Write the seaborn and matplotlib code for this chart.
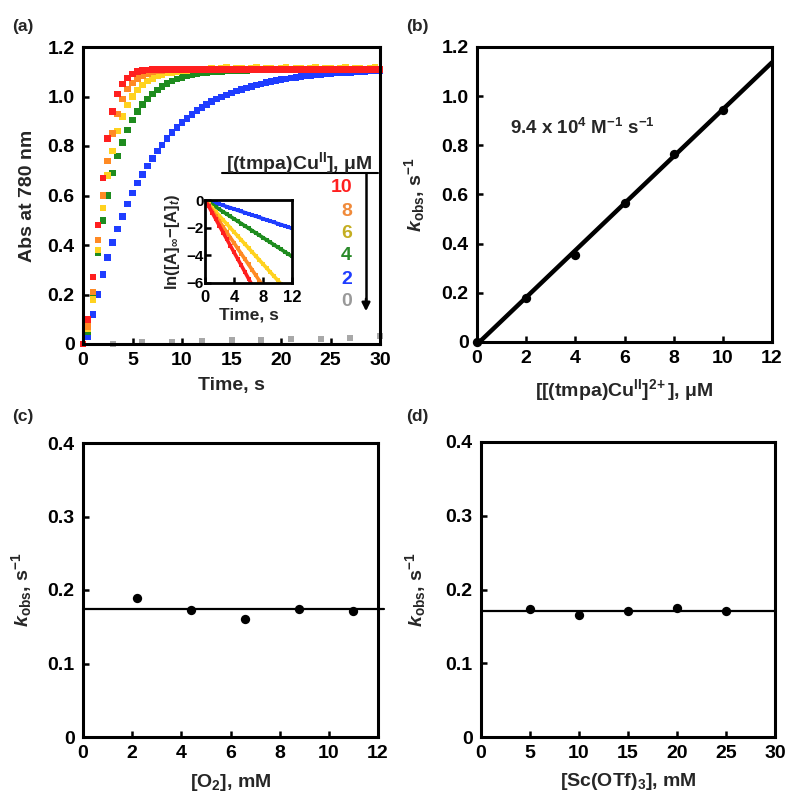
import numpy as np
import pandas as pd
import matplotlib
matplotlib.use("Agg")
import matplotlib.pyplot as plt
import seaborn as sns
from matplotlib.lines import Line2D

# ---------------- data: panel (a) main ----------------
TIME = [0.0, 0.5, 1.0, 1.5, 2.0, 2.5, 3.0, 3.5, 4.0, 4.5, 5.0, 5.5, 6.0,
        6.5, 7.0, 7.5, 8.0, 8.5, 9.0, 9.5, 10.0, 10.5, 11.0,
        11.5, 12.0, 12.5, 13.0, 13.5, 14.0, 14.5, 15.0, 15.5, 16.0,
        16.5, 17.0, 17.5, 18.0, 18.5, 19.0, 19.5, 20.0, 20.5, 21.0,
        21.5, 22.0, 22.5, 23.0, 23.5, 24.0, 24.5, 25.0, 25.5, 26.0,
        26.5, 27.0, 27.5, 28.0, 28.5, 29.0, 29.5, 30.0]

ABS_10 = [0.00, 0.10, 0.27, 0.48, 0.67, 0.83, 0.94, 1.01, 1.05, 1.075, 1.09, 1.10, 1.105,
          1.108, 1.109, 1.11, 1.11, 1.11, 1.11, 1.11, 1.11, 1.11, 1.11,
          1.11, 1.11, 1.11, 1.11, 1.11, 1.11, 1.11, 1.11, 1.11, 1.11,
          1.11, 1.11, 1.11, 1.11, 1.11, 1.11, 1.11, 1.11, 1.11, 1.11,
          1.11, 1.11, 1.11, 1.11, 1.11, 1.11, 1.11, 1.11, 1.11, 1.11,
          1.11, 1.11, 1.11, 1.11, 1.11, 1.11, 1.11, 1.11]
ABS_8 = [0.00, 0.07, 0.21, 0.42, 0.60, 0.74, 0.85, 0.93, 0.99, 1.03, 1.055, 1.072, 1.085,
         1.093, 1.099, 1.103, 1.106, 1.108, 1.109, 1.11, 1.11, 1.11, 1.11,
         1.11, 1.11, 1.11, 1.11, 1.11, 1.11, 1.11, 1.11, 1.11, 1.11,
         1.11, 1.11, 1.11, 1.11, 1.11, 1.11, 1.11, 1.11, 1.11, 1.11,
         1.11, 1.11, 1.11, 1.11, 1.11, 1.11, 1.11, 1.11, 1.11, 1.11,
         1.11, 1.11, 1.11, 1.11, 1.11, 1.11, 1.11, 1.11]
ABS_6 = [0.00, 0.06, 0.18, 0.38, 0.55, 0.68, 0.78, 0.86, 0.92, 0.965, 1.00, 1.027, 1.047,
         1.062, 1.073, 1.082, 1.089, 1.094, 1.098, 1.101, 1.104, 1.106, 1.107,
         1.108, 1.110, 1.112, 1.116, 1.112, 1.113, 1.117, 1.112, 1.113, 1.116,
         1.112, 1.113, 1.117, 1.112, 1.113, 1.116, 1.112, 1.113, 1.117, 1.112,
         1.113, 1.116, 1.112, 1.113, 1.117, 1.112, 1.113, 1.116, 1.112, 1.113,
         1.117, 1.112, 1.113, 1.116, 1.112, 1.113, 1.117, 1.112]
ABS_4 = [0.00, 0.05, 0.20, 0.37, 0.50, 0.60, 0.69, 0.76, 0.815, 0.865, 0.905, 0.94, 0.968,
         0.99, 1.01, 1.027, 1.041, 1.052, 1.062, 1.07, 1.076, 1.082, 1.087,
         1.091, 1.094, 1.096, 1.099, 1.101, 1.102, 1.103, 1.104, 1.105, 1.106,
         1.106, 1.107, 1.107, 1.108, 1.108, 1.108, 1.109, 1.109, 1.109, 1.109,
         1.11, 1.11, 1.11, 1.11, 1.11, 1.11, 1.11, 1.11, 1.11, 1.11,
         1.11, 1.11, 1.11, 1.11, 1.11, 1.11, 1.11, 1.11]
ABS_2 = [0.00, 0.03, 0.12, 0.20, 0.28, 0.35, 0.41, 0.465, 0.515, 0.565, 0.61, 0.65, 0.685,
         0.72, 0.75, 0.78, 0.805, 0.83, 0.855, 0.875, 0.895, 0.912, 0.928,
         0.943, 0.956, 0.968, 0.979, 0.989, 0.998, 1.007, 1.015, 1.022, 1.029,
         1.035, 1.041, 1.046, 1.051, 1.056, 1.06, 1.064, 1.068, 1.071, 1.074,
         1.077, 1.08, 1.082, 1.085, 1.087, 1.089, 1.091, 1.093, 1.094, 1.096,
         1.097, 1.098, 1.10, 1.101, 1.102, 1.103, 1.104, 1.105]
TIME_0 = [0, 3, 6, 9, 12, 15, 18, 21, 24, 27, 30]
ABS_0 = [0.0, 0.0, 0.008, 0.010, 0.012, 0.016, 0.018, 0.020, 0.022, 0.026, 0.032]

CONC_LABELS = ["10", "8", "6", "4", "2", "0"]
MARK_COLORS = {"10": "#ff1f1f", "8": "#ff8a24", "6": "#ffd21f",
               "4": "#1e8c1e", "2": "#1f3dff", "0": "#a8a8a8"}
TEXT_COLORS = {"10": "#ff1f1f", "8": "#f08a3a", "6": "#c4ae22",
               "4": "#2a8a2a", "2": "#1f3dff", "0": "#999999"}

# ---------------- data: panel (a) inset ----------------
INSET_TIME = [0.0, 0.5, 1.0, 1.5, 2.0, 2.5, 3.0, 3.5, 4.0, 4.5, 5.0, 5.5, 6.0,
              6.5, 7.0, 7.5, 8.0, 8.5, 9.0, 9.5, 10.0, 10.5, 11.0, 11.5, 12.0]
LN_10 = [0, -0.45, -0.92, -1.40, -1.88, -2.35, -2.83, -3.30, -3.78, -4.25, -4.72,
         -5.20, -5.68, -6.15]
LN_8 = [0, -0.38, -0.77, -1.16, -1.55, -1.94, -2.33, -2.72, -3.10, -3.50, -3.88,
        -4.27, -4.66, -5.05, -5.44, -5.83, -6.22]
LN_6 = [0, -0.28, -0.57, -0.86, -1.15, -1.44, -1.73, -2.02, -2.31, -2.60, -2.89,
        -3.18, -3.47, -3.76, -4.05, -4.34, -4.63, -4.92, -5.21, -5.50, -5.79, -6.08]
LN_4 = [0, -0.15, -0.33, -0.50, -0.68, -0.85, -1.02, -1.19, -1.36, -1.53, -1.70,
        -1.87, -2.04, -2.21, -2.38, -2.55, -2.72, -2.89, -3.06, -3.23, -3.40,
        -3.57, -3.74, -3.91, -4.08]
LN_2 = [0, -0.05, -0.13, -0.22, -0.30, -0.39, -0.48, -0.56, -0.65, -0.74, -0.83,
        -0.91, -1.00, -1.09, -1.17, -1.26, -1.35, -1.44, -1.52, -1.61, -1.70,
        -1.78, -1.87, -1.96, -2.05]

# ---------------- data: panels (b)-(d) ----------------
CU_CONC = [0, 2, 4, 6, 8, 10]
KOBS_B = [0.0, 0.18, 0.355, 0.565, 0.765, 0.945]
O2_CONC = [2.2, 4.4, 6.6, 8.8, 11.0]
KOBS_C = [0.189, 0.173, 0.161, 0.174, 0.172]
SC_CONC = [5, 10, 15, 20, 25]
KOBS_D = [0.173, 0.166, 0.171, 0.175, 0.171]

# ---------------- style ----------------
sns.set_theme(style="ticks")
plt.rcParams.update({
    "font.family": ["Liberation Sans", "DejaVu Sans"],
    "font.weight": "bold",
    "axes.labelweight": "bold",
    "mathtext.fontset": "custom",
    "mathtext.rm": "Liberation Sans:bold",
    "mathtext.it": "Liberation Sans:italic:bold",
    "mathtext.bf": "Liberation Sans:bold",
    "mathtext.sf": "Liberation Sans:bold",
    "axes.unicode_minus": True,
})

W, H = 788, 796
fig = plt.figure(figsize=(W / 100, H / 100), dpi=100)


def box(l, t, r, b):
    return [l / W, 1 - b / H, (r - l) / W, (b - t) / H]


def fp(x, y):
    return (x / W, 1 - y / H)


def style_axis(ax, fs=14, lw=2.2, pad=6):
    for sp in ax.spines.values():
        sp.set_visible(True)
        sp.set_linewidth(lw)
        sp.set_color("black")
    ax.tick_params(direction="in", length=4.5, width=1.8, labelsize=fs,
                   pad=pad, colors="black", top=False, right=False)
    for lab in ax.get_xticklabels() + ax.get_yticklabels():
        lab.set_fontweight("bold")


ax_a = fig.add_axes(box(83, 47, 380, 344))
ax_b = fig.add_axes(box(477, 47, 772, 342))
ax_c = fig.add_axes(box(83, 443, 378, 737))
ax_d = fig.add_axes(box(481, 442, 775, 737))
ax_in = fig.add_axes(box(205, 200, 292, 283))

# ---------------- panel (a) ----------------
series = [("2", ABS_2), ("4", ABS_4), ("6", ABS_6), ("8", ABS_8), ("10", ABS_10)]
df_a = pd.concat([pd.DataFrame({"time": TIME, "abs": vals, "conc": lbl})
                  for lbl, vals in series], ignore_index=True)
df_0 = pd.DataFrame({"time": TIME_0, "abs": ABS_0, "conc": "0"})

sns.scatterplot(data=df_0, x="time", y="abs", color=MARK_COLORS["0"], marker="s",
                s=14, linewidth=0, legend=False, ax=ax_a, clip_on=False)
sns.scatterplot(data=df_a, x="time", y="abs", hue="conc", palette=MARK_COLORS,
                marker="s", s=22, linewidth=0, legend=False, ax=ax_a, clip_on=False)
ax_a.set_xlim(0, 30)
ax_a.set_ylim(0, 1.2)
ax_a.set_xticks([0, 5, 10, 15, 20, 25, 30])
ax_a.set_xticklabels(["0", "5", "10", "15", "20", "25", "30"])
ax_a.set_yticks([0, 0.2, 0.4, 0.6, 0.8, 1.0, 1.2])
ax_a.set_yticklabels(["0", "0.2", "0.4", "0.6", "0.8", "1.0", "1.2"])
ax_a.set_xlabel("Time, s", fontsize=14, fontweight="bold")
ax_a.set_ylabel("Abs at 780 nm", fontsize=14, fontweight="bold")
style_axis(ax_a)
ax_a.xaxis.set_label_coords(0.5, -0.112)
ax_a.yaxis.set_label_coords(-0.158, 0.5)

# inset
rows = []
for lbl, vals in [("2", LN_2), ("4", LN_4), ("6", LN_6), ("8", LN_8), ("10", LN_10)]:
    rows.append(pd.DataFrame({"time": INSET_TIME[:len(vals)], "ln": vals, "conc": lbl}))
df_in = pd.concat(rows, ignore_index=True)
sns.lineplot(data=df_in, x="time", y="ln", hue="conc", palette=MARK_COLORS,
             hue_order=["2", "4", "6", "8", "10"], linewidth=2.6, marker="s",
             markersize=3.2, markeredgewidth=0, legend=False, ax=ax_in, sort=False)
ax_in.set_xlim(0, 12)
ax_in.set_ylim(-6, 0)
ax_in.set_xticks([0, 4, 8, 12])
ax_in.set_xticklabels(["0", "4", "8", "12"])
ax_in.set_yticks([0, -2, -4, -6])
ax_in.set_yticklabels(["0", "\u22122", "\u22124", "\u22126"])
ax_in.set_xlabel("Time, s", fontsize=12.5, fontweight="bold")
ax_in.set_ylabel(r"ln([A]$_{\infty}$$-$[A]$_{t}$)", fontsize=12, fontweight="bold")
style_axis(ax_in, fs=12, lw=2.0, pad=2)
ax_in.tick_params(axis="y", pad=1, labelsize=11)
ax_in.tick_params(axis="x", pad=5)
ax_in.xaxis.set_label_coords(0.5, -0.29)
ax_in.yaxis.set_label_coords(-0.27, 0.5)

# legend-like annotations
fig.text(*fp(299, 163), r"[(tmpa)Cu$^{\rm II}$], μM", ha="center", va="center",
         fontsize=14, fontweight="bold")
fig.add_artist(Line2D([222 / W, 378 / W], [1 - 173 / H, 1 - 173 / H],
                      transform=fig.transFigure, color="black", lw=1.5))
fig.add_artist(Line2D([366 / W, 366 / W], [1 - 173 / H, 1 - 300 / H],
                      transform=fig.transFigure, color="black", lw=1.8))
ax_a.annotate("", xy=fp(366, 314), xytext=fp(366, 296), xycoords="figure fraction",
              textcoords="figure fraction",
              arrowprops=dict(arrowstyle="-|>", color="black", lw=1.8, mutation_scale=12))
for lbl, yy in zip(CONC_LABELS, [188, 211, 233, 256, 279, 302]):
    fig.text(*fp(352, yy), lbl, ha="right", va="center", fontsize=14,
             fontweight="bold", color=TEXT_COLORS[lbl])

# ---------------- panel (b) ----------------
df_b = pd.DataFrame({"conc": CU_CONC, "kobs": KOBS_B})
ax_b.set_xlim(0, 12)
ax_b.set_ylim(0, 1.2)
sns.regplot(data=df_b, x="conc", y="kobs", ci=None, scatter=False, truncate=False,
            line_kws=dict(color="black", lw=3.2), ax=ax_b)
sns.scatterplot(data=df_b, x="conc", y="kobs", color="black", s=45, linewidth=0,
                legend=False, ax=ax_b, clip_on=False, zorder=3)
ax_b.set_xlim(0, 12)
ax_b.set_ylim(0, 1.2)
ax_b.set_xticks([0, 2, 4, 6, 8, 10, 12])
ax_b.set_xticklabels(["0", "2", "4", "6", "8", "10", "12"])
ax_b.set_yticks([0, 0.2, 0.4, 0.6, 0.8, 1.0, 1.2])
ax_b.set_yticklabels(["0", "0.2", "0.4", "0.6", "0.8", "1.0", "1.2"])
ax_b.text(1.35, 0.87, r"9.4 x 10$^{4}$ M$^{-1}$ s$^{-1}$", fontsize=13.5,
          fontweight="bold", va="center", ha="left")
ax_b.set_xlabel(r"[[(tmpa)Cu$^{\rm II}$]$^{\rm 2\!+}$], μM", fontsize=14, fontweight="bold")
ax_b.set_ylabel(r"$k$$_{\rm obs}$, s$^{-1}$", fontsize=14, fontweight="bold")
style_axis(ax_b)
ax_b.xaxis.set_label_coords(0.5, -0.12)
ax_b.yaxis.set_label_coords(-0.17, 0.5)

# ---------------- panel (c) ----------------
df_c = pd.DataFrame({"o2": O2_CONC, "kobs": KOBS_C})
ax_c.axhline(np.mean(KOBS_C), xmin=0, xmax=1.02, color="black", lw=1.6, clip_on=False)
sns.scatterplot(data=df_c, x="o2", y="kobs", color="black", s=45, linewidth=0,
                legend=False, ax=ax_c, zorder=3)
ax_c.set_xlim(0, 12)
ax_c.set_ylim(0, 0.4)
ax_c.set_xticks([0, 2, 4, 6, 8, 10, 12])
ax_c.set_xticklabels(["0", "2", "4", "6", "8", "10", "12"])
ax_c.set_yticks([0, 0.1, 0.2, 0.3, 0.4])
ax_c.set_yticklabels(["0", "0.1", "0.2", "0.3", "0.4"])
ax_c.set_xlabel(r"[O$_{2}$], mM", fontsize=14, fontweight="bold")
ax_c.set_ylabel(r"$k$$_{\rm obs}$, s$^{-1}$", fontsize=14, fontweight="bold")
style_axis(ax_c)
ax_c.xaxis.set_label_coords(0.5, -0.118)
ax_c.yaxis.set_label_coords(-0.165, 0.5)

# ---------------- panel (d) ----------------
df_d = pd.DataFrame({"sc": SC_CONC, "kobs": KOBS_D})
ax_d.axhline(np.mean(KOBS_D), xmin=0, xmax=1.0, color="black", lw=1.6)
sns.scatterplot(data=df_d, x="sc", y="kobs", color="black", s=45, linewidth=0,
                legend=False, ax=ax_d, zorder=3)
ax_d.set_xlim(0, 30)
ax_d.set_ylim(0, 0.4)
ax_d.set_xticks([0, 5, 10, 15, 20, 25, 30])
ax_d.set_xticklabels(["0", "5", "10", "15", "20", "25", "30"])
ax_d.set_yticks([0, 0.1, 0.2, 0.3, 0.4])
ax_d.set_yticklabels(["0", "0.1", "0.2", "0.3", "0.4"])
ax_d.set_xlabel(r"[Sc(OTf)$_{3}$], mM", fontsize=14, fontweight="bold")
ax_d.set_ylabel(r"$k$$_{\rm obs}$, s$^{-1}$", fontsize=14, fontweight="bold")
style_axis(ax_d)
ax_d.xaxis.set_label_coords(0.5, -0.115)
ax_d.yaxis.set_label_coords(-0.18, 0.5)

# ---------------- panel letters ----------------
for lbl, (x, y) in [("(a)", (12, 27)), ("(b)", (406, 26)), ("(c)", (12, 417)), ("(d)", (406, 417))]:
    fig.text(*fp(x, y), lbl, ha="left", va="center", fontsize=12.5, fontweight="bold")

fig.savefig("out.png", dpi=100)
